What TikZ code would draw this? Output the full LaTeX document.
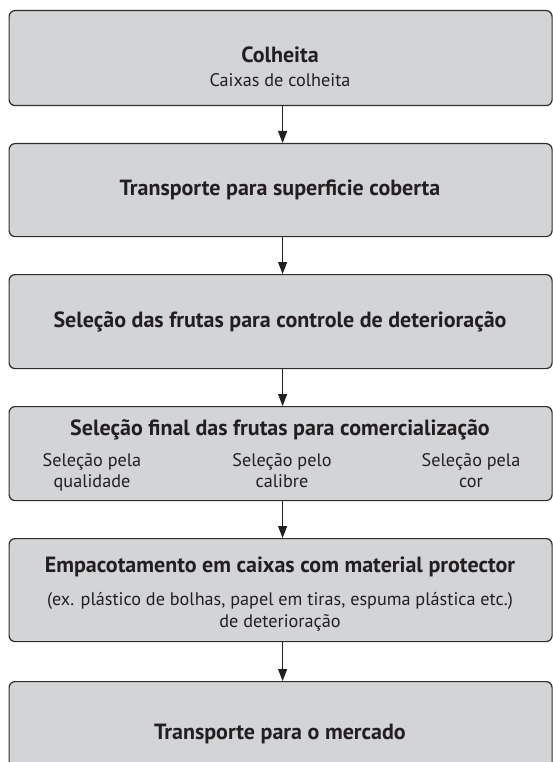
\documentclass[tikz,border=0pt]{standalone}
\usepackage{fontspec}
\setmainfont{PT Sans}
\usetikzlibrary{arrows.meta}
\definecolor{boxfill}{RGB}{211,212,214}
\definecolor{boxline}{RGB}{45,45,45}
\definecolor{ink}{RGB}{35,31,32}
\begin{document}
\begin{tikzpicture}[x=1pt,y=-1pt,
  stage/.style={draw=boxline, fill=boxfill, line width=1.2pt, rounded corners=6pt,
    minimum width=543pt, inner sep=0pt, anchor=north west},
  ttl/.style={font=\fontsize{22}{26}\selectfont\bfseries, anchor=base, inner sep=0pt, text=ink},
  sub/.style={font=\fontsize{18.2}{21}\selectfont, anchor=base, inner sep=0pt, text=ink},
  flow/.style={draw=ink, line width=1pt, -{Triangle[length=12pt,width=9pt]}}]
\useasboundingbox (0,0) rectangle (552,762);
\node[stage, minimum height=95pt] (b1) at (8.5,10) {};
\node[stage, minimum height=93pt] (b2) at (8.5,143) {};
\node[stage, minimum height=94pt] (b3) at (8.5,274) {};
\node[stage, minimum height=94pt] (b4) at (8.5,406) {};
\node[stage, minimum height=103pt] (b5) at (8.5,538) {};
\node[stage, minimum height=95pt] (b6) at (8.5,681) {};

\foreach \a/\b in {b1/b2,b2/b3,b3/b4,b4/b5,b5/b6}
  \draw[flow] ([xshift=2pt]\a.south) -- ([xshift=2pt]\b.north);

\node[ttl] (t1) at (280,63) {Colheita};
\node[sub] (s1) at (280,87) {Caixas de colheita};
\node[ttl] (t2) at (280,195) {Transporte para superficie coberta};
\node[ttl] (t3) at (280,327) {Seleção das frutas para controle de deterioração};
\node[ttl] (t4) at (280,435) {Seleção final das frutas para comercialização};
\node[sub] (s4a) at (92,466) {Seleção pela};
\node[sub] (s4b) at (92,487) {qualidade};
\node[sub] (s4c) at (282,466) {Seleção pelo};
\node[sub] (s4d) at (282,487) {calibre};
\node[sub] (s4e) at (471,466) {Seleção pela};
\node[sub] (s4f) at (471,487) {cor};
\node[ttl] (t5) at (280,572) {Empacotamento em caixas com material protector};
\node[sub] (s5a) at (280,605.5) {(ex. plástico de bolhas, papel em tiras, espuma plástica etc.)};
\node[sub] (s5b) at (280,627) {de deterioração};
\node[ttl] (t6) at (280,739) {Transporte para o mercado};
\end{tikzpicture}
\end{document}
